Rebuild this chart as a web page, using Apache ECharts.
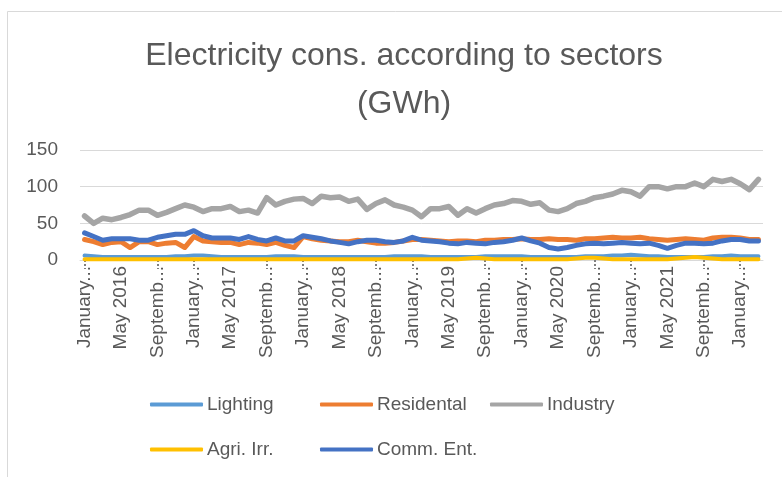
<!DOCTYPE html>
<html>
<head>
<meta charset="utf-8">
<script src="https://cdn.jsdelivr.net/npm/echarts@6/dist/echarts.min.js"></script>
<style>
  html, body { margin: 0; padding: 0; background: #fff; }
  #chart { width: 782px; height: 477px; }
</style>
</head>
<body>
<div id="chart"></div>
<script>
  // monthly values, January 2016 .. March 2022 (GWh)
  var monthNames = ['January', 'February', 'March', 'April', 'May', 'June', 'July',
    'August', 'September', 'October', 'November', 'December'];
  var years = [2016, 2017, 2018, 2019, 2020, 2021, 2022];

  var lighting = [6,5,4,4,4,4,4,4,4,4, 5,5,6,6,5,4,4,4,4,4, 4,5,5,5,4,4,4,4,4,4,
    4,4,4,4,5,5,5,5,4,4, 4,4,4,4,5,5,5,5,5,4, 4,4,4,4,4,5,5,5,6,6,
    7,6,5,5,4,4,4,4,4,5, 5,6,5,5,5];
  var residental = [28,25,21,24,25,17,25,25,21,23, 24,17,32,26,25,24,24,21,24,23,
    21,24,20,17,32,29,27,26,25,25, 27,25,23,23,24,26,28,28,27,26,
    25,26,26,25,27,27,28,28,29,28, 28,29,28,28,27,29,29,30,31,30,
    30,31,29,28,27,28,29,28,27,30, 31,31,30,28,28];
  var industry = [60,50,57,55,58,62,68,68,61,65, 70,75,72,66,70,70,73,66,68,64,
    85,75,80,83,84,77,87,85,86,80, 83,69,77,82,75,72,68,59,70,70,
    73,61,70,64,70,75,77,81,80,76, 78,68,66,70,77,80,85,87,90,95,
    93,87,100,100,97,100,100,105,100,110, 107,110,104,96,110];
  var agri = [1,1,1,1,1,1,1,1,1,1, 1,1,1,1,1,1,1,1,1,1, 1,1,1,1,1,1,1,1,1,1,
    1,1,1,1,1,1,1,1,1,1, 1,1,2,3,2,1,1,1,1,1, 1,1,1,1,2,3,3,2,1,1,
    1,1,1,1,1,2,3,4,3,2, 1,1,1,1,1];
  var commEnt = [37,32,27,29,29,29,27,27,31,33, 35,35,40,33,30,30,30,28,32,28,
    26,30,26,26,33,31,29,26,24,22, 25,27,27,25,24,26,31,27,26,25,
    23,22,24,23,22,24,25,27,30,26, 23,17,15,17,20,22,23,22,23,24,
    23,22,23,20,16,20,23,23,22,23, 26,28,28,26,26];

  var categories = [];
  years.forEach(function (y) {
    monthNames.forEach(function (m) {
      if (categories.length < industry.length) categories.push(m + ' ' + y);
    });
  });

  var grey = '#595959';
  var font = 'Liberation Sans, Arial, sans-serif';

  function lineSeries(name, data, color, width) {
    return {
      name: name,
      type: 'line',
      data: data,
      symbol: 'none',
      color: color,
      lineStyle: { width: width, color: color, cap: 'round', join: 'round' }
    };
  }

  // one legend per entry so the columns line up like the original
  function legendItem(name, left, top) {
    return {
      data: [name],
      left: left,
      top: top,
      icon: 'roundRect',
      itemWidth: 53,
      itemHeight: 4,
      itemGap: 0,
      padding: 0,
      textStyle: { color: grey, fontSize: 19, fontFamily: font, padding: [0, 0, 0, -1] }
    };
  }

  var option = {
    animation: false,
    backgroundColor: '#fff',
    title: {
      text: 'Electricity cons. according to sectors\n(GWh)',
      left: 399,
      textAlign: 'center',
      top: 27,
      textStyle: { color: grey, fontSize: 32, fontWeight: 'normal', fontFamily: font, lineHeight: 48 }
    },
    legend: [
      legendItem('Lighting', 150, 395),
      legendItem('Residental', 320, 395),
      legendItem('Industry', 490, 395),
      legendItem('Agri. Irr.', 150, 440),
      legendItem('Comm. Ent.', 320, 440)
    ],
    grid: { left: 80, right: 19, top: 150, bottom: 217 },
    xAxis: {
      type: 'category',
      data: categories,
      boundaryGap: true,
      axisLine: { lineStyle: { color: '#d9d9d9', width: 1 } },
      axisTick: {
        show: true,
        alignWithLabel: true,
        length: 9,
        interval: function (i) { return i % 12 === 0 || i % 12 === 8; },
        lineStyle: { color: '#7f7f7f', width: 2, type: [2, 2] }
      },
      axisLabel: {
        interval: 3,
        rotate: 90,
        margin: 6,
        color: grey,
        fontSize: 19,
        fontFamily: font,
        formatter: function (v) { return v.length > 8 ? v.slice(0, 7) + '...' : v; }
      }
    },
    yAxis: {
      type: 'value',
      min: 0,
      max: 150,
      interval: 50,
      axisLine: { show: false },
      axisTick: { show: false },
      splitLine: { lineStyle: { color: '#d9d9d9', width: 1 } },
      axisLabel: { color: grey, fontSize: 19, fontFamily: font, margin: 22 }
    },
    graphic: [{
      type: 'rect',
      shape: { x: 7.5, y: 11.5, width: 1000, height: 1000 },
      style: { fill: 'none', stroke: '#d9d9d9', lineWidth: 1 },
      silent: true
    }],
    series: [
      lineSeries('Lighting', lighting, '#5B9BD5', 4),
      lineSeries('Residental', residental, '#ED7D31', 5),
      lineSeries('Industry', industry, '#A5A5A5', 5.5),
      lineSeries('Agri. Irr.', agri, '#FFC000', 4),
      lineSeries('Comm. Ent.', commEnt, '#4472C4', 5)
    ]
  };

  var myChart = echarts.init(document.getElementById('chart'));
  myChart.setOption(option);
</script>
</body>
</html>
